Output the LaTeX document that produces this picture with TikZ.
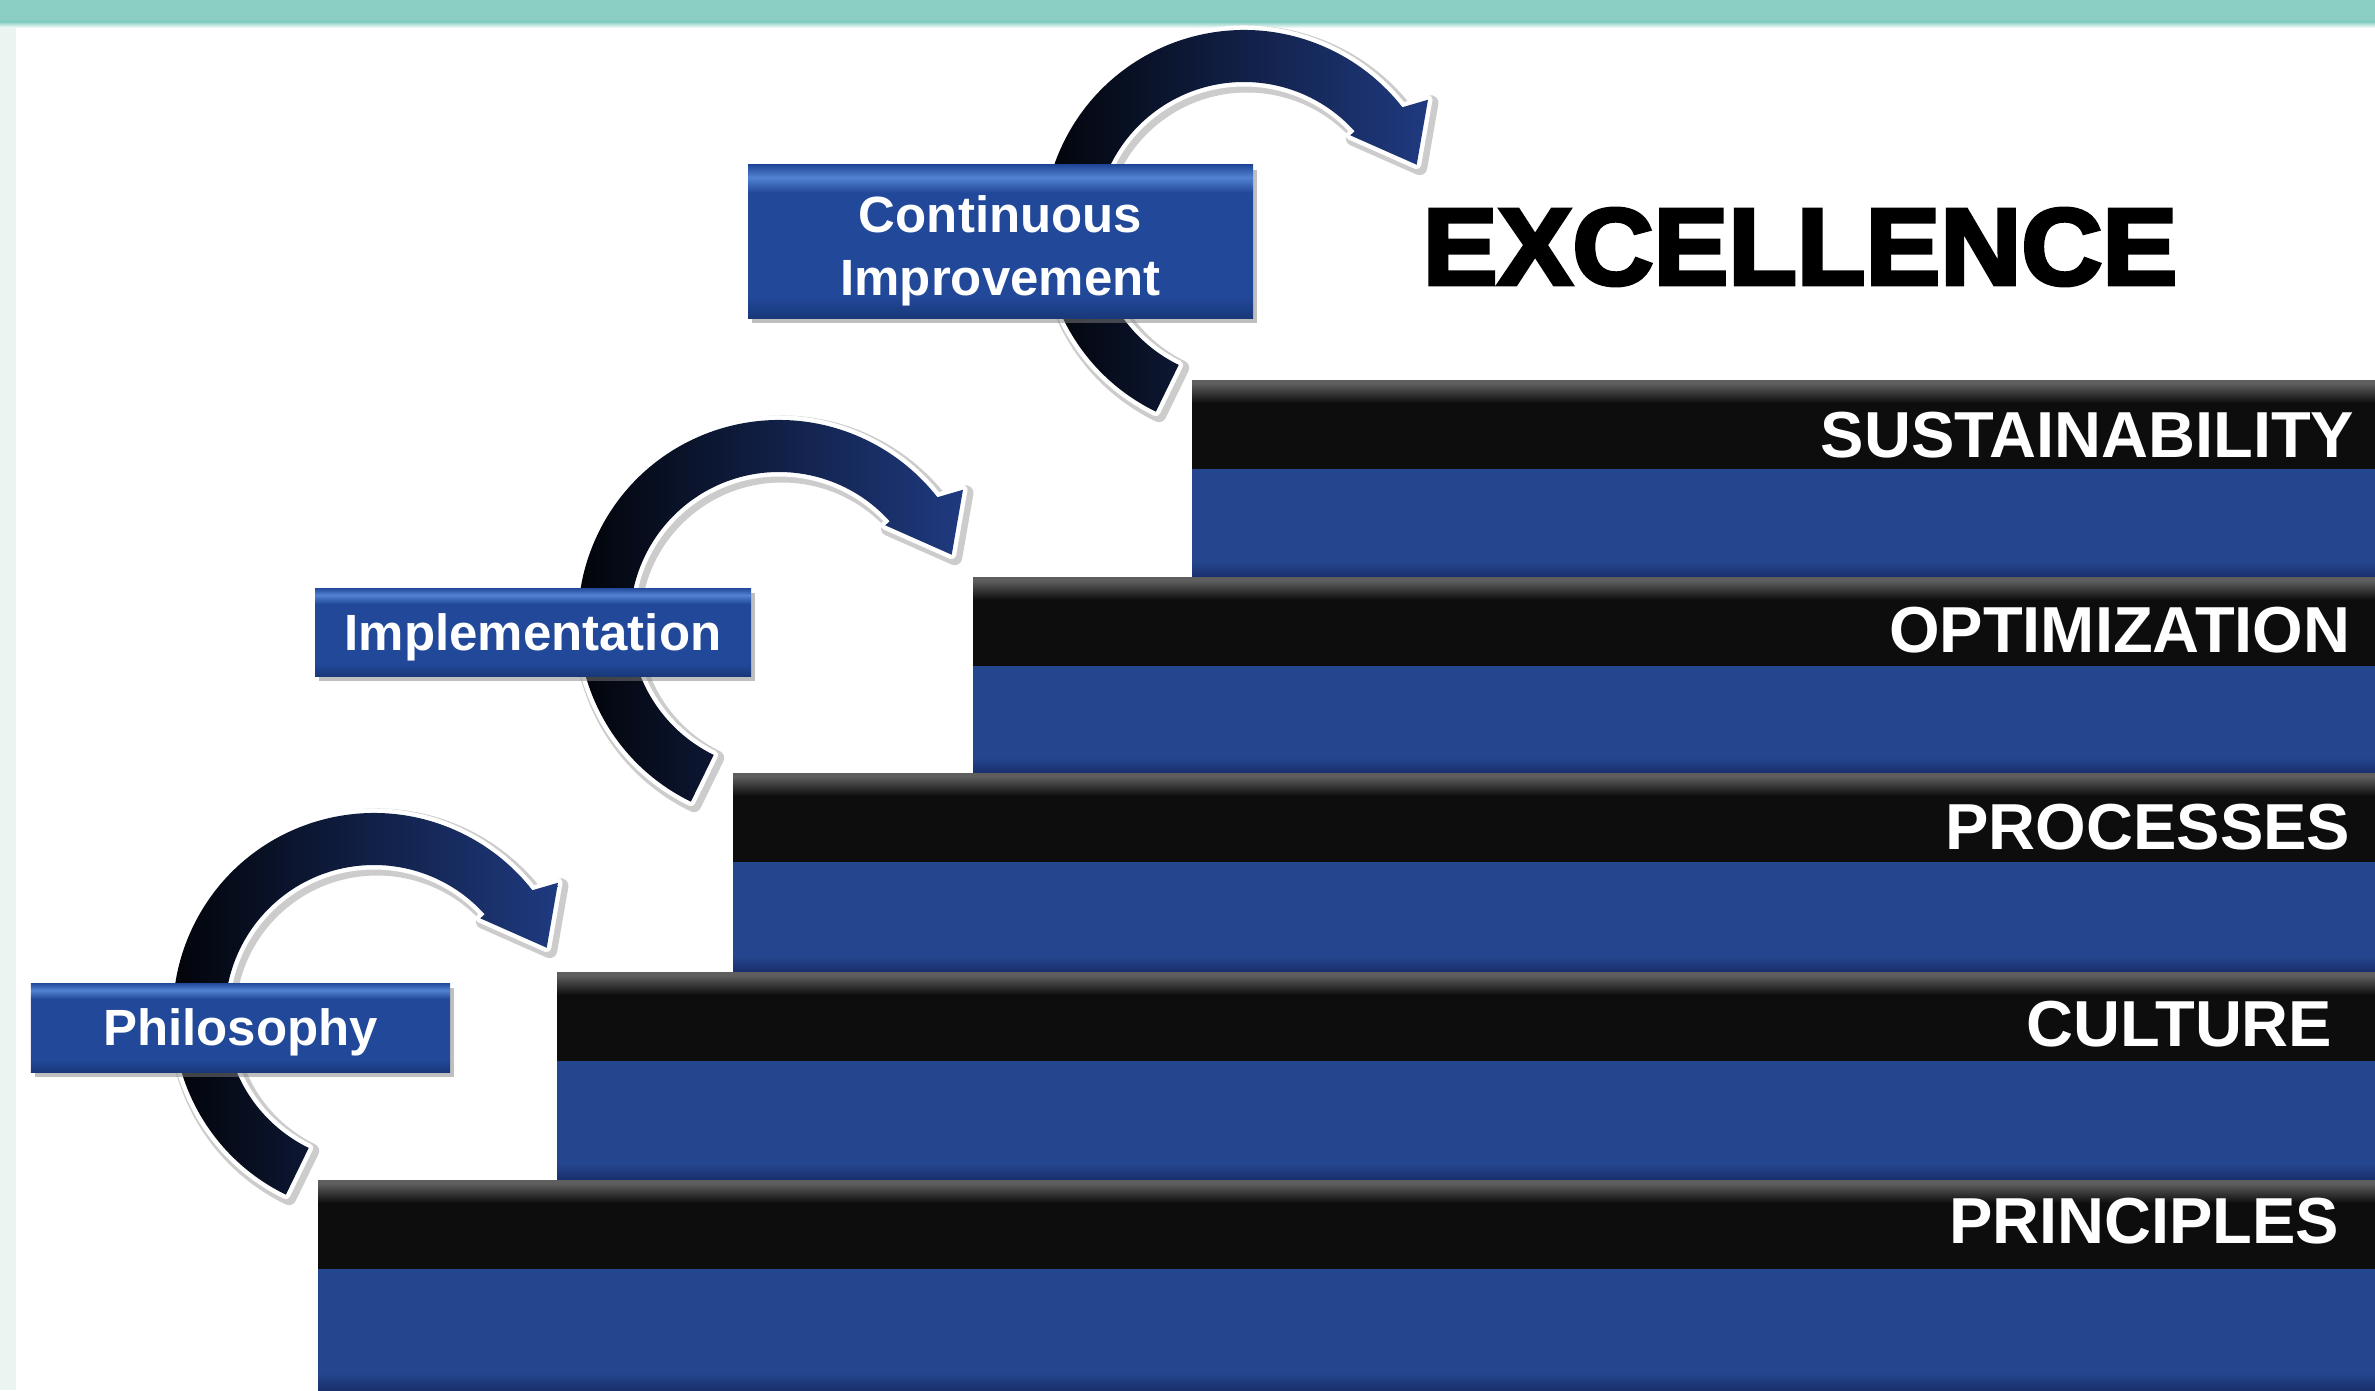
\documentclass[tikz,border=0pt]{standalone}
\usepackage{fontspec}
\setmainfont{Liberation Sans}
\newfontfamily\heavysans[FakeBold=3.5]{Liberation Sans Bold}
\usetikzlibrary{shadows,positioning}

\definecolor{bandteal}{HTML}{8BCFC4}
\definecolor{edgestrip}{HTML}{EAF4F1}
\definecolor{stepblue}{HTML}{24468E}
\definecolor{stepdark}{HTML}{1A2F6C}
\definecolor{steplight}{HTML}{3E60B4}
\definecolor{bandblack}{HTML}{0D0D0D}
\definecolor{bandgray}{HTML}{5E5E5E}
\definecolor{boxmain}{HTML}{22489A}
\definecolor{boxdark}{HTML}{183878}
\definecolor{boxlight}{HTML}{5283D2}
\definecolor{arrowmid}{HTML}{0D1C48}
\definecolor{arrownavy}{HTML}{1F3A80}

\pgfdeclareverticalshading{stepshade}{100bp}{color(0bp)=(stepdark); color(25bp)=(stepdark); color(29bp)=(stepblue); color(68bp)=(stepblue); color(72bp)=(steplight); color(75bp)=(stepblue); color(100bp)=(stepblue)}
\pgfdeclareverticalshading{bandshade}{100bp}{color(0bp)=(bandblack); color(25bp)=(bandblack); color(62bp)=(bandblack); color(73bp)=(bandgray); color(75bp)=(bandgray); color(100bp)=(bandgray)}
\pgfdeclareverticalshading{boxshade}{100bp}{color(0bp)=(boxdark); color(25bp)=(boxdark); color(32bp)=(boxmain); color(66bp)=(boxmain); color(71bp)=(boxlight); color(75bp)=(boxmain); color(100bp)=(boxmain)}

\tikzstyle{stagebox} = [rectangle, shade, shading=boxshade, drop shadow={shadow xshift=0.04cm, shadow yshift=-0.05cm, opacity=0.5}, text=white, font=\bfseries\fontsize{14.5}{18}\selectfont, align=center, inner sep=0pt, text depth=0pt]
\tikzstyle{steptext} = [anchor=east, inner sep=0pt, text=white, font=\bfseries\fontsize{18.5}{20}\selectfont]

\newcommand{\arrowpath}{(244:2.01) arc[start angle=244, end angle=38, radius=2.01] -- (35.5:2.26) -- (21:1.85) -- (42:1.43) -- (42:1.49) arc[start angle=42, end angle=244, radius=1.49] -- cycle}
\newcommand{\cyclearrow}[2]{%
  \begin{scope}[shift={(#1,#2)}]
    \draw[gray!40, line width=0.15cm, line join=round, shift={(0.03,-0.03)}] \arrowpath;
    \draw[white, line width=0.09cm, line join=round] \arrowpath;
    \shade[left color=black, middle color=arrowmid, right color=arrownavy] \arrowpath;
  \end{scope}}

\begin{document}
\begin{tikzpicture}
	\useasboundingbox (0,0) rectangle (23.75,13.9);
	% Background
	\fill[white] (0,0) rectangle (23.75,13.9);
	\fill[bandteal] (0,13.68) rectangle (23.75,13.9);
	\shade[top color=bandteal, bottom color=white] (0,13.62) rectangle (23.75,13.68);
	\fill[edgestrip] (0,0) rectangle (0.16,13.62);
	% Steps
	\shade[shading=stepshade] (11.92,8.13) rectangle (23.75,10.10);
	\shade[shading=bandshade] (11.92,9.22) rectangle (23.75,10.10);
	\shade[shading=stepshade] (9.73,6.17) rectangle (23.75,8.13);
	\shade[shading=bandshade] (9.73,7.25) rectangle (23.75,8.13);
	\shade[shading=stepshade] (7.33,4.18) rectangle (23.75,6.17);
	\shade[shading=bandshade] (7.33,5.29) rectangle (23.75,6.17);
	\shade[shading=stepshade] (5.57,2.10) rectangle (23.75,4.18);
	\shade[shading=bandshade] (5.57,3.30) rectangle (23.75,4.18);
	\shade[shading=stepshade] (3.18,0) rectangle (23.75,2.10);
	\shade[shading=bandshade] (3.18,1.22) rectangle (23.75,2.10);
	% Step labels
	\node [steptext] (sustainability) at (23.55,9.55) {SUSTAINABILITY};
	\node [steptext] (optimization) at (23.51,7.60) {OPTIMIZATION};
	\node [steptext] (processes) at (23.51,5.63) {PROCESSES};
	\node [steptext] (culture) at (23.33,3.66) {CULTURE};
	\node [steptext] (principles) at (23.40,1.69) {PRINCIPLES};
	% Cycle arrows
	\cyclearrow{3.74}{3.76}
	\cyclearrow{7.79}{7.69}
	\cyclearrow{12.44}{11.59}
	% Stage boxes
	\node [stagebox, minimum width=4.19cm, minimum height=0.89cm] (philosophy) at (2.405,3.625) {Philosophy};
	\node [stagebox, minimum width=4.36cm, minimum height=0.88cm] (implementation) at (5.33,7.58) {Implementation};
	\node [stagebox, minimum width=5.05cm, minimum height=1.53cm] (improvement) at (10.005,11.485) {\rule{0pt}{13pt}Continuous\\Improvement};
	% Title
	\node [inner sep=0pt, xscale=1.03, transform shape, font=\heavysans\fontsize{31}{31}\selectfont] (excellence) at (18.00,11.43) {EXCELLENCE};
\end{tikzpicture}
\end{document}
